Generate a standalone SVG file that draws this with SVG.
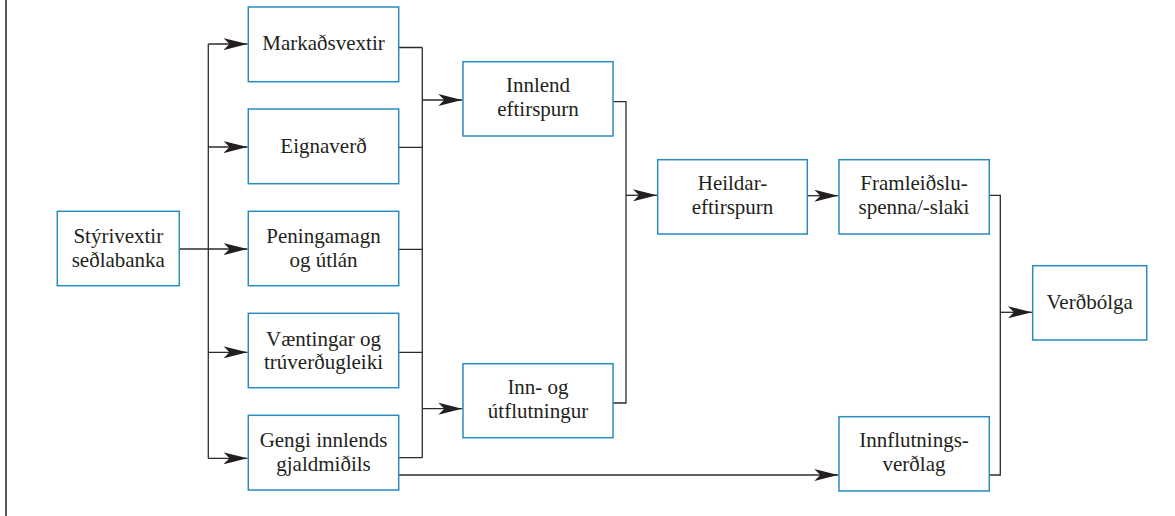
<svg xmlns="http://www.w3.org/2000/svg" width="1175" height="516" viewBox="0 0 1175 516">
<style>
.box{fill:#fff;stroke:#2a8bbf;stroke-width:1.5}
.t{font-family:"Liberation Serif","DejaVu Serif",Tinos,"Times New Roman",serif;font-size:21px;fill:#231f20;text-anchor:middle}
.c{fill:none;stroke:#2b2b2b;stroke-width:1.3}
.a{marker-end:url(#arr)}
</style>
<defs>
<marker id="arr" viewBox="0 0 24 12" refX="24" refY="6" markerWidth="24" markerHeight="12" markerUnits="userSpaceOnUse" orient="auto">
<path d="M0,0 L24,6 L0,12 L6,6 Z" fill="#231f20"/>
</marker>
</defs>
<rect width="1175" height="516" fill="#fff"/>
<line x1="6" y1="0" x2="6" y2="516" stroke="#231f20" stroke-width="1.5"/>
<g id="connectors">
<path class="c a" d="M179.3,249 H247.5"/>
<path class="c" d="M208.3,44 V458.3"/>
<path class="c a" d="M208.3,44 H247.5"/>
<path class="c a" d="M208.3,147 H247.5"/>
<path class="c a" d="M208.3,352.3 H247.5"/>
<path class="c a" d="M208.3,458.3 H247.5"/>
<path class="c" d="M398.7,47.5 H422.3 M398.7,147.3 H422.3 M398.7,249.3 H422.3 M398.7,352.3 H422.3 M398.7,457.7 H422.3 M422.3,47.5 V457.7"/>
<path class="c a" d="M422.3,100 H462.3"/>
<path class="c a" d="M422.3,408.7 H462.3"/>
<path class="c" d="M613,101.7 H626 V403 H613"/>
<path class="c a" d="M626,195.3 H657"/>
<path class="c a" d="M807.3,195.7 H838.3"/>
<path class="c a" d="M398.7,475 H838.3"/>
<path class="c" d="M989.3,195.3 H1000.3 V475 H989.3"/>
<path class="c a" d="M1000.3,312.3 H1032"/>
</g>
<g id="styrivextir"><rect class="box" x="57.3" y="211.3" width="122" height="74.4"/><text class="t" x="118.3" y="242.7">Stýrivextir</text><text class="t" x="118.3" y="266.7">seðlabanka</text></g>
<g id="markadsvextir"><rect class="box" x="248.3" y="7" width="150.4" height="74.7"/><text class="t" x="323.5" y="50.3">Markaðsvextir</text></g>
<g id="eignaverd"><rect class="box" x="248.3" y="109" width="150.4" height="74.7"/><text class="t" x="323.5" y="152.5">Eignaverð</text></g>
<g id="peningamagn"><rect class="box" x="248.3" y="211.3" width="150.4" height="74.4"/><text class="t" x="323.5" y="242.7">Peningamagn</text><text class="t" x="323.5" y="266.7">og útlán</text></g>
<g id="vaentingar"><rect class="box" x="248.3" y="313.3" width="150.4" height="74.4"/><text class="t" x="323.5" y="345.7">Væntingar og</text><text class="t" x="323.5" y="368.7">trúverðugleiki</text></g>
<g id="gengi"><rect class="box" x="248.3" y="415.3" width="150.4" height="74.7"/><text class="t" x="323.5" y="447.3">Gengi innlends</text><text class="t" x="323.5" y="470.7">gjaldmiðils</text></g>
<g id="innlend"><rect class="box" x="463" y="61.7" width="150" height="74.3"/><text class="t" x="538" y="92">Innlend</text><text class="t" x="538" y="116">eftirspurn</text></g>
<g id="innogut"><rect class="box" x="463" y="363.7" width="150" height="74"/><text class="t" x="538" y="394">Inn- og</text><text class="t" x="538" y="418">útflutningur</text></g>
<g id="heildar"><rect class="box" x="657.7" y="159.7" width="149.6" height="74.3"/><text class="t" x="732.5" y="190">Heildar-</text><text class="t" x="732.5" y="214">eftirspurn</text></g>
<g id="framleidslu"><rect class="box" x="839" y="159.7" width="150.3" height="74.3"/><text class="t" x="914" y="190">Framleiðslu-</text><text class="t" x="914" y="214">spenna/-slaki</text></g>
<g id="innflutnings"><rect class="box" x="839" y="416.7" width="150.3" height="74.3"/><text class="t" x="914" y="447">Innflutnings-</text><text class="t" x="914" y="471">verðlag</text></g>
<g id="verdbolga"><rect class="box" x="1032.7" y="265.7" width="114" height="74.3"/><text class="t" x="1089.7" y="308.5">Verðbólga</text></g>
</svg>
